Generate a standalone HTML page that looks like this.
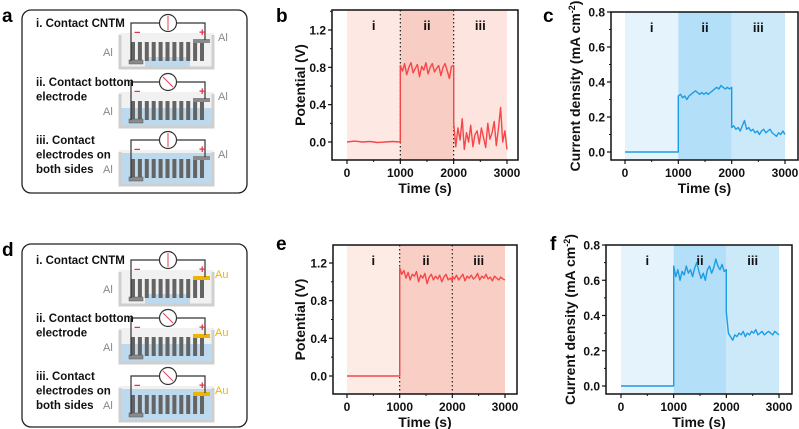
<!DOCTYPE html>
<html><head><meta charset="utf-8"><style>
body{margin:0;background:#fff;width:799px;height:429px;overflow:hidden;font-family:"Liberation Sans",sans-serif}
svg{position:absolute;left:0;top:0}
text{font-family:"Liberation Sans",sans-serif}
</style></head><body>
<svg id="fig" width="799" height="429"></svg>
<script>
// ---- data ----
const xTicks=[0,1000,2000,3000];
const vTicks=[0.0,0.4,0.8,1.2];
const jTicks=[0.0,0.2,0.4,0.6,0.8];
const regionLabels=["i","ii","iii"];
const bSeg1=[0,0.01,0,0.005,-0.005,0,0.005,0];
const bSeg2=[0.82,0.76,0.84,0.72,0.80,0.85,0.74,0.79,0.83,0.70,0.81,0.77,0.85,0.73,0.80,0.84,0.75,0.79,0.82,0.71,0.80,0.84,0.76,0.68,0.81,0.82];
const bSeg3=[0.20,-0.05,0.15,0.02,0.25,-0.08,0.10,0.00,0.18,-0.05,0.08,0.12,-0.02,0.15,0.05,-0.06,0.20,0.03,0.10,0.22,-0.04,0.15,0.37,0.00,0.12,-0.08];
const cSeg1=[0,0];
const cSeg2=[0.32,0.33,0.31,0.32,0.30,0.32,0.33,0.34,0.35,0.34,0.33,0.34,0.33,0.34,0.33,0.34,0.35,0.36,0.37,0.36,0.38,0.37,0.36,0.37,0.36,0.37];
const cSeg3=[0.14,0.15,0.13,0.14,0.12,0.15,0.18,0.13,0.14,0.12,0.13,0.11,0.12,0.10,0.12,0.13,0.11,0.12,0.13,0.11,0.10,0.09,0.11,0.10,0.12,0.10];
const eSeg1=[0,0];
const eSeg2=[1.15,1.08,1.12,1.04,1.10,1.02,1.08,1.06,1.11,1.00,1.07,1.04,1.09,0.98,1.05,1.08,1.02,1.06,1.03,1.07,1.00,1.05,1.08,1.02,1.04,1.01];
const eSeg3=[1.06,1.03,1.07,1.02,1.05,1.08,1.01,1.06,1.04,1.07,1.03,1.05,1.09,1.02,1.06,1.04,1.08,1.03,1.05,1.01,1.06,1.04,1.02,1.05,1.03,1.02];
const fSeg1=[0,0];
const fSeg2=[0.68,0.62,0.66,0.60,0.65,0.63,0.68,0.64,0.66,0.62,0.67,0.70,0.65,0.61,0.64,0.60,0.66,0.68,0.64,0.67,0.72,0.68,0.66,0.69,0.65,0.66];
const fSeg3=[0.42,0.30,0.28,0.26,0.29,0.28,0.30,0.29,0.31,0.28,0.30,0.29,0.31,0.30,0.32,0.29,0.30,0.31,0.29,0.30,0.31,0.30,0.29,0.31,0.30,0.29];

const NS="http://www.w3.org/2000/svg";
const svg=document.getElementById('fig');
function el(tag,attrs,parent,txt){const e=document.createElementNS(NS,tag);for(const k in attrs)e.setAttribute(k,attrs[k]);if(txt!==undefined)e.textContent=txt;(parent||svg).appendChild(e);return e;}

function chart(c){
  const g=el('g',{});
  
  
  const X=t=>c.x0+(t/3000)*(c.x3-c.x0);
  const Y=v=>c.yz+(v-0)*(c.yt-c.yz)/c.ytv;
  for(let i=0;i<3;i++){
    const r=el('rect',{x:X(i*1000),y:c.top,width:X(1000)-X(0),height:c.bot-c.top,fill:c.bg[i]},g);
    
    
    const t=el('text',{x:X(i*1000+500),y:c.top+20,'font-size':13,'font-weight':'bold','text-anchor':'middle',fill:'#111'},g,regionLabels[i]);
    
    
  }
  if(c.dotted){[1000,2000].forEach(t=>{const l=el('line',{x1:X(t),x2:X(t),y1:c.top,y2:c.bot,stroke:'#222','stroke-width':1.2,'stroke-dasharray':'1.5,2.5'},g);
    
    });}
  let pts=[];
  c.segs.forEach((s,si)=>{s.forEach((v,i)=>{const t=si*1000+i*1000/(s.length-1);pts.push(X(t).toFixed(1)+','+Y(v).toFixed(1));});});
  const p=el('polyline',{points:pts.join(' '),fill:'none',stroke:c.color,'stroke-width':1.4,'stroke-linejoin':'round'},g);
  
  
  const ax=el('rect',{x:c.left,y:c.top,width:c.right-c.left,height:c.bot-c.top,fill:'none',stroke:'#111','stroke-width':1.5},g);
  
  
  xTicks.forEach((t,i)=>{el('line',{x1:X(t),x2:X(t),y1:c.bot,y2:c.bot+4,stroke:'#111','stroke-width':1.2},g);
    if(i<xTicks.length-1)el('line',{x1:X(t+500),x2:X(t+500),y1:c.bot,y2:c.bot+2,stroke:'#111','stroke-width':1},g);
    const tl=el('text',{x:X(t),y:c.bot+17,'font-size':12,'font-weight':'bold','text-anchor':'middle',fill:'#111'},g,String(t));
    
    });
  c.yTicks.forEach((v,i)=>{el('line',{x1:c.left-4,x2:c.left,y1:Y(v),y2:Y(v),stroke:'#111','stroke-width':1.2},g);
    if(Y(v+c.minor)>c.top+1)el('line',{x1:c.left-2,x2:c.left,y1:Y(v+c.minor),y2:Y(v+c.minor),stroke:'#111','stroke-width':1},g);
    const tl=el('text',{x:c.left-6,y:Y(v)+4.5,'font-size':12,'font-weight':'bold','text-anchor':'end',fill:'#111'},g,v.toFixed(1));
    
    });
  const xt=el('text',{x:(c.left+c.right)/2,y:c.bot+33,'font-size':14,'font-weight':'bold','text-anchor':'middle',fill:'#111'},g,'Time (s)');
  
  
  const yt=el('text',{x:0,y:0,'font-size':14,'font-weight':'bold','text-anchor':'middle',fill:'#111',transform:`translate(${c.ytx},${(c.top+c.bot)/2}) rotate(-90)`},g);
  
  
  if(c.current){yt.textContent='Current density (mA cm';el('tspan',{dy:-5,'font-size':9},yt,'-2');el('tspan',{dy:5},yt,')');}
  else yt.textContent='Potential (V)';
  const pl=el('text',{x:c.lx,y:c.ly,'font-size':19,'font-weight':'bold',fill:'#000'},g,c.letter);
  
  
}
const pinkB=['#fde8e4','#f8cdc4','#fde4de'],pinkE=['#fdebe6','#f9cfc5','#f9cfc5'],blue=['#e5f4fc','#b3dff8','#cce9fa'];
chart({name:'chart-b',letter:'b',lx:276,ly:22,left:332,right:518,top:10,bot:160,x0:347,x3:507,yz:142,yt:30,ytv:1.2,yTicks:vTicks,minor:0.2,bg:pinkB,dotted:true,color:'#f5474a',segs:[bSeg1,bSeg2,bSeg3],ytx:305});
chart({name:'chart-c',letter:'c',lx:543,ly:22,left:611,right:798,top:12,bot:160,x0:625,x3:785,yz:152,yt:12,ytv:0.8,yTicks:jTicks,minor:0.1,bg:blue,color:'#1b9ce6',segs:[cSeg1,cSeg2,cSeg3],ytx:580,current:true});
chart({name:'chart-e',letter:'e',lx:276,ly:250,left:333,right:517,top:245,bot:394,x0:347,x3:505,yz:376,yt:263,ytv:1.2,yTicks:vTicks,minor:0.2,bg:pinkE,dotted:true,color:'#f5474a',segs:[eSeg1,eSeg2,eSeg3],ytx:305});
chart({name:'chart-f',letter:'f',lx:550,ly:250,left:606,right:792,top:245,bot:394,x0:621,x3:779,yz:386,yt:245,ytv:0.8,yTicks:jTicks,minor:0.1,bg:blue,color:'#1b9ce6',segs:[fSeg1,fSeg2,fSeg3],ytx:575,current:true});

// ---- schematics ----
function schematic(letter,bx,by,circles,texts,liquid,rightMat,arrows){
  const g=el('g',{});
  
  
  const b=el('rect',{x:bx,y:by,width:225,height:183,rx:9,fill:'#fff',stroke:'#222','stroke-width':1.3},g);
  
  
  const pl=el('text',{x:2,y:by+12,'font-size':19,'font-weight':'bold',fill:'#000'},g,letter);
  
  
  circles.forEach((cy,r)=>{
    el('rect',{x:119,y:cy+10,width:95,height:36,fill:'#f1f1f1'},g);
    const lq=liquid[r];
    el('rect',{x:lq[0],y:cy+lq[1],width:lq[2]-lq[0],height:44-lq[1],fill:'#bcd9ee'},g);
    el('path',{d:`M120 ${cy+12} V${cy+45} H213 V${cy+12}`,fill:'none',stroke:'#cfcfcf','stroke-width':3},g);
    for(let i=0;i<11;i++)el('rect',{x:131+i*6.9,y:cy+19,width:4,height:19,fill:'#646464'},g);
    el('rect',{x:129,y:cy+37,width:14,height:4,fill:'#8a8a8a',stroke:'#555','stroke-width':0.5},g);
    el('rect',{x:193,y:cy+16,width:17,height:4,fill:rightMat==='Au'?'#f0b400':'#8a8a8a'},g);
    el('path',{d:`M131 ${cy+38} V${cy} H205 V${cy+17}`,fill:'none',stroke:'#333','stroke-width':1.2},g);
    el('circle',{cx:168,cy:cy,r:8.5,fill:'#fff',stroke:'#333','stroke-width':1.2},g);
    const a=arrows[r];
    el('line',{x1:168-a[0],y1:cy+a[1],x2:168+a[0],y2:cy-a[1],stroke:'#e0405a','stroke-width':1},g);
    el('text',{x:134,y:cy+13,'font-size':11,'font-weight':'bold',fill:'#e0304a'},g,'−');
    el('text',{x:199,y:cy+13,'font-size':11,'font-weight':'bold',fill:'#e0304a'},g,'+');
    el('text',{x:103,y:cy+33,'font-size':11,fill:'#888'},g,'Al');
    el('text',{x:rightMat==='Au'?215:218,y:cy+18,'font-size':11,fill:rightMat==='Au'?'#f0b400':'#888'},g,rightMat);
    texts[r].forEach((s,k)=>{const t=el('text',{x:36,y:cy+4+k*14.5,'font-size':11.5,'font-weight':'bold',fill:'#111'},g,s);
      
      });
  });
}
const condTexts=[["i. Contact CNTM"],["ii. Contact bottom","electrode"],["iii. Contact","electrodes on","both sides"]];
schematic('a',22,10,[23,82,140],condTexts,[[145,34,190],[121,26,212],[121,13,212]],'Al',[[0,7],[-5,5],[0,7]]);
schematic('d',22,244,[260,318,376],condTexts,[[145,34,190],[121,26,212],[121,13,212]],'Au',[[0,7],[-5,5],[-5,5]]);
</script>
</body></html>
